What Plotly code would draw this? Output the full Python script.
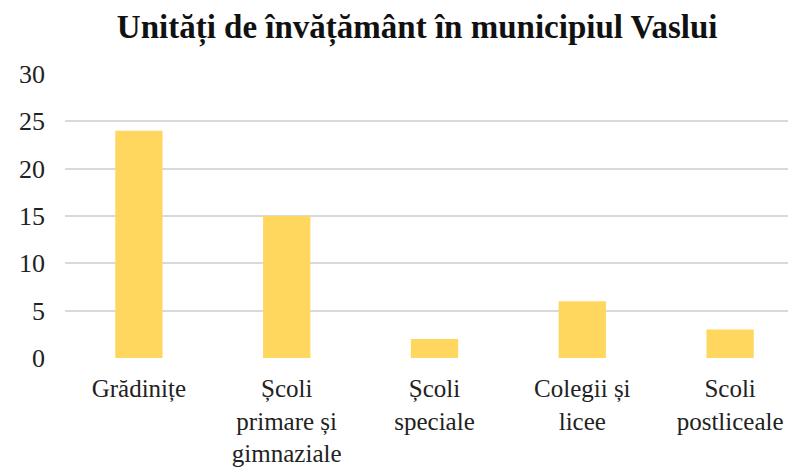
import plotly.graph_objects as go

categories = ["Grădinițe", "Școli<br>primare și<br>gimnaziale", "Școli<br>speciale",
              "Colegii și<br>licee", "Scoli<br>postliceale"]
values = [24, 15, 2, 6, 3]
y_ticks = [0, 5, 10, 15, 20, 25, 30]

SERIF = "Liberation Serif"

fig = go.Figure(go.Bar(x=categories, y=values, marker_color="#FFD75E",
                       marker_line_width=0, width=0.32))

fig.update_layout(
    width=796, height=476,
    margin=dict(l=57, r=0, t=66, b=126),
    paper_bgcolor="white", plot_bgcolor="white",
    font=dict(family=SERIF, size=24, color="#222222"),
    title=dict(text="<b>Unități de învățământ în municipiul Vaslui</b>",
               x=0.514, xanchor="center", y=0.962, yanchor="middle",
               font=dict(family=SERIF, size=33, color="#111111")),
    showlegend=False,
)
fig.update_yaxes(range=[0, 30], tickvals=y_ticks, showgrid=True, gridcolor="#d9d9d9",
                 gridwidth=1.5, zeroline=False, showline=False, ticks="",
                 automargin=False, ticklabelstandoff=19,
                 tickfont=dict(family=SERIF, size=26, color="#222222"))
fig.update_xaxes(showline=False, ticks="", automargin=False, ticklabelstandoff=13,
                 tickfont=dict(family=SERIF, size=25, color="#222222"))

fig.write_html("out.html")
